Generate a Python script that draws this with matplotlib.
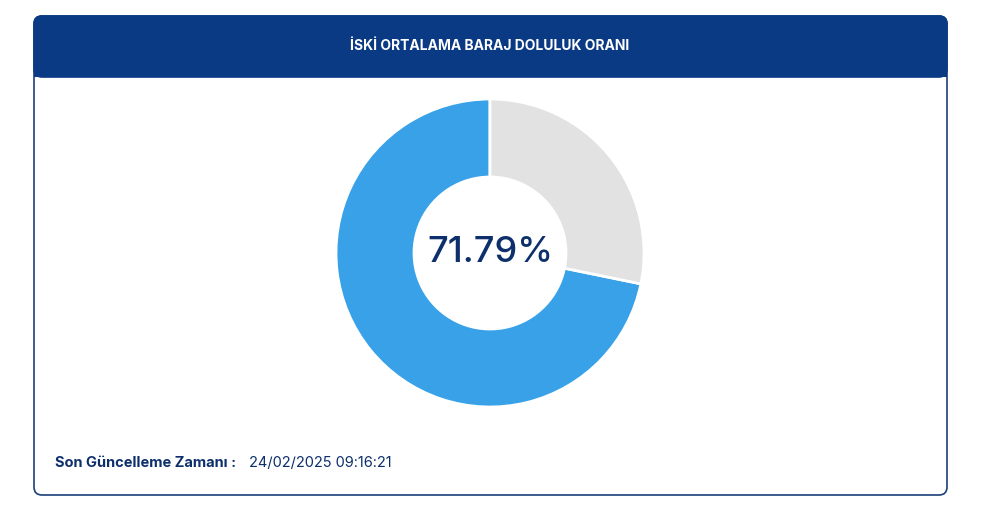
import matplotlib.pyplot as plt
from matplotlib.patches import FancyBboxPatch, Rectangle

title = "İSKİ ORTALAMA BARAJ DOLULUK ORANI"
labels = ["Dolu", "Boş"]
values = [71.79, 28.21]
colors = ["#38a1e8", "#e2e2e2"]
update_label = "Son Güncelleme Zamanı :"
update_time = "24/02/2025 09:16:21"

W, H = 1000, 509
fig = plt.figure(figsize=(10, 5.09), dpi=100)
ax = fig.add_axes([0, 0, 1, 1])
ax.set_xlim(0, W)
ax.set_ylim(0, H)
ax.axis("off")

def Y(y):
    return H - y

# card and header
ax.add_patch(FancyBboxPatch((34, Y(495)), 913, 479, boxstyle="round,pad=0,rounding_size=8",
                            fc="white", ec="#1d3f7a", lw=1.2))
ax.add_patch(FancyBboxPatch((34, Y(77)), 913, 61, boxstyle="round,pad=0,rounding_size=8",
                            fc="#0b3a84", ec="#0b3a84", lw=1.2))
ax.add_patch(Rectangle((34, Y(77)), 913, 20, fc="#0b3a84", ec="none"))
ax.text(490, Y(46), title, color="white", fontsize=10, fontweight="bold",
        ha="center", va="center", family="Inter")

# donut
ax.pie(values, colors=colors, startangle=90, counterclock=True, radius=154,
       center=(490, Y(253)), frame=True,
       wedgeprops=dict(width=78, edgecolor="white", linewidth=2))
ax.set_xlim(0, W)
ax.set_ylim(0, H)
ax.set_aspect("equal")
ax.axis("off")
ax.text(490, Y(253), f"{values[0]:.2f}%", color="#0d2f6b", fontsize=26,
        ha="center", va="center", family="Inter", fontweight="medium")

# footer
t = ax.text(55, Y(463), update_label, color="#0d2f6b", fontsize=10.5, fontweight="bold",
            ha="left", va="center", family="Inter")
ax.text(249, Y(463), update_time, color="#0d2f6b", fontsize=10.5,
        ha="left", va="center", family="Inter")

fig.savefig("out.png", dpi=100)
